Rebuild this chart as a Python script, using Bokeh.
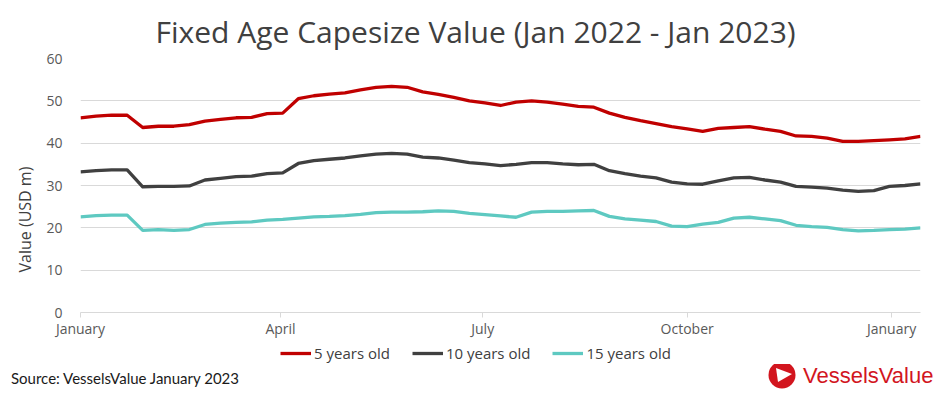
import pandas as pd
from bokeh.plotting import figure
from bokeh.layouts import column, row
from bokeh.models import (Range1d, FixedTicker, DatetimeTickFormatter, Legend,
                          LegendItem, Title, Div)
from bokeh.embed import file_html
from bokeh.resources import INLINE

# ---------------- data ----------------
start_date = "2022-01-01"
five_years = [46.0, 46.4, 46.6, 46.6, 43.7, 44.0, 44.0, 44.4, 45.2, 45.6,
              46.0, 46.1, 47.0, 47.1, 50.5, 51.2, 51.6, 51.9, 52.6, 53.2,
              53.4, 53.2, 52.1, 51.5, 50.8, 50.0, 49.5, 48.9, 49.7, 50.0,
              49.7, 49.2, 48.7, 48.5, 47.1, 46.1, 45.3, 44.6, 43.9, 43.4,
              42.8, 43.5, 43.7, 43.9, 43.3, 42.8, 41.7, 41.6, 41.2, 40.4,
              40.4, 40.6, 40.8, 41.0, 41.6]
ten_years = [33.2, 33.5, 33.7, 33.7, 29.7, 29.8, 29.8, 29.9, 31.3, 31.7,
             32.1, 32.2, 32.8, 33.0, 35.2, 35.9, 36.2, 36.5, 37.0, 37.4,
             37.6, 37.4, 36.7, 36.5, 36.0, 35.4, 35.1, 34.7, 35.0, 35.4,
             35.4, 35.1, 34.9, 35.0, 33.5, 32.8, 32.2, 31.8, 30.8, 30.4,
             30.3, 31.1, 31.8, 31.9, 31.3, 30.8, 29.8, 29.6, 29.4, 28.9,
             28.6, 28.8, 29.8, 30.0, 30.4]
fifteen_years = [22.6, 22.9, 23.0, 23.0, 19.4, 19.6, 19.4, 19.6, 20.8, 21.1,
                 21.3, 21.4, 21.8, 22.0, 22.3, 22.6, 22.7, 22.9, 23.2, 23.6,
                 23.7, 23.7, 23.8, 24.0, 23.9, 23.4, 23.1, 22.8, 22.5, 23.7,
                 23.9, 23.9, 24.0, 24.1, 22.7, 22.1, 21.8, 21.5, 20.4, 20.3,
                 20.9, 21.3, 22.3, 22.5, 22.1, 21.7, 20.6, 20.3, 20.1, 19.6,
                 19.3, 19.4, 19.6, 19.7, 20.0]
series_names = ["5 years old", "10 years old", "15 years old"]
series_colors = ["#c00000", "#404040", "#5ec9c1"]
tick_dates = ["2022-01-01", "2022-04-01", "2022-07-01", "2022-10-01", "2023-01-01"]
y_ticks = [0, 10, 20, 30, 40, 50, 60]

title_text = "Fixed Age Capesize Value (Jan 2022 - Jan 2023)"
y_label = "Value (USD m)"
source_text = "Source: VesselsValue January 2023"
brand_text = "VesselsValue"
brand_red = "#d2151e"

dates = pd.date_range(start_date, periods=len(five_years), freq="7D")

# ---------------- main chart ----------------
W = 940
p = figure(width=W, height=340, output_backend="svg", toolbar_location=None,
           x_axis_type="datetime",
           x_range=Range1d(dates[0], dates[-1]), y_range=Range1d(0, 60),
           min_border_left=80, min_border_right=20, min_border_top=58,
           min_border_bottom=27)
p.outline_line_color = None
p.background_fill_color = "white"
p.border_fill_color = "white"

renderers = []
for vals, col in zip([five_years, ten_years, fifteen_years], series_colors):
    r = p.line(dates, vals, line_color=col, line_width=3.3, line_join="round")
    renderers.append(r)

p.title.text = title_text
p.title.align = "left"
p.title.offset = 75
p.title.standoff = 13
p.title.text_font = "Open Sans"
p.title.text_font_size = "30px"
p.title.text_font_style = "normal"
p.title.text_color = "#404040"

tick_ms = [pd.Timestamp(d).value / 1e6 for d in tick_dates]
p.xaxis.ticker = FixedTicker(ticks=tick_ms)
p.xaxis.formatter = DatetimeTickFormatter(years="%B", months="%B", days="%B")
p.xaxis.axis_line_color = "#d9d9d9"
p.xaxis.major_tick_line_color = "#d9d9d9"
p.xaxis.major_tick_out = 5
p.xaxis.major_tick_in = 0
p.xaxis.minor_tick_line_color = None
p.xaxis.major_label_standoff = 1
p.xaxis.major_label_text_font = "Open Sans"
p.xaxis.major_label_text_font_size = "14px"
p.xaxis.major_label_text_color = "#595959"

p.yaxis.ticker = FixedTicker(ticks=y_ticks)
p.yaxis.axis_line_color = None
p.yaxis.major_tick_line_color = None
p.yaxis.minor_tick_line_color = None
p.yaxis.major_label_standoff = 12
p.yaxis.major_label_text_font = "Open Sans"
p.yaxis.major_label_text_font_size = "14px"
p.yaxis.major_label_text_color = "#595959"

p.add_layout(Title(text=y_label, align="left", offset=40, standoff=15,
                   text_font="Open Sans", text_font_size="16px",
                   text_font_style="normal", text_color="#404040"), "left")

p.xgrid.grid_line_color = None
p.ygrid.grid_line_color = "#d9d9d9"
p.ygrid.grid_line_width = 1

# ---------------- legend strip ----------------
LH = 24
lf = figure(width=W, height=LH, output_backend="svg", toolbar_location=None,
            x_range=Range1d(0, 1), y_range=Range1d(0, 1),
            x_axis_location=None, y_axis_location=None,
            min_border=0, min_border_left=0, min_border_right=0,
            min_border_top=0, min_border_bottom=0)
lf.outline_line_color = None
lf.xgrid.grid_line_color = None
lf.ygrid.grid_line_color = None
lf.border_fill_color = "white"
lf.background_fill_color = "white"

key_renderers = [lf.line(x=[-5, -4], y=[-5, -5], line_color=c, line_width=3.3)
                 for c in series_colors]
legend = Legend(items=[LegendItem(label=n, renderers=[r]) for n, r in zip(series_names, key_renderers)],
                orientation="horizontal", location=(200, 1),
                label_text_font="Open Sans", label_text_font_size="15px",
                label_text_color="#404040", label_standoff=3,
                glyph_width=31, glyph_height=18, label_height=18, spacing=22,
                padding=2, margin=0, border_line_color=None,
                background_fill_alpha=0)
lf.add_layout(legend)

# ---------------- footer: source and logo ----------------
FH = 29
source_div = Div(
    text=('<div style="font-family:Lato;font-size:15px;color:#1a1a1a;'
          'line-height:%dpx;padding-left:11px;white-space:nowrap">%s</div>') % (FH, source_text),
    width=760, height=FH, margin=0)
logo_svg = (
    '<svg width="180" height="%d" style="display:block">'
    '<circle cx="22" cy="11" r="13.5" fill="%s"/>'
    '<polygon points="16,4 18,18 32,10" fill="white"/>'
    '<text x="43" y="11" dominant-baseline="central" font-family="Open Sans" '
    'font-size="22" fill="%s">%s</text></svg>'
) % (FH, brand_red, brand_red, brand_text)
logo_div = Div(text=logo_svg, width=180, height=FH, margin=0)

layout = column(p, lf, row(source_div, logo_div, spacing=0), spacing=0)
open("out.html", "w").write(file_html(layout, INLINE))
